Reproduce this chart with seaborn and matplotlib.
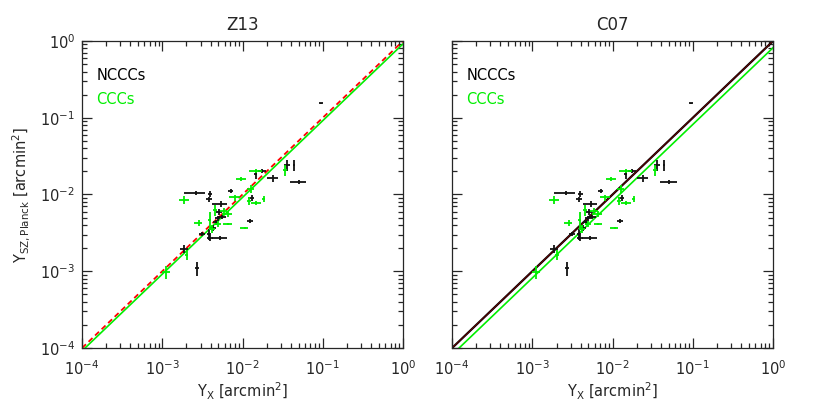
import matplotlib
matplotlib.use("Agg")
import matplotlib.pyplot as plt
import seaborn as sns
import numpy as np
import pandas as pd

# NCCCs (black)
nccc_yx = [0.0356, 0.0442, 0.0506, 0.0237, 0.0146, 0.0175, 0.00261, 0.00397, 0.00386,
           0.00713, 0.00532, 0.01294, 0.0124, 0.00491, 0.00551, 0.00463, 0.00432,
           0.00383, 0.00525, 0.00394, 0.0031, 0.00187, 0.00271, 0.0942, 0.00509]
nccc_ysz = [0.0242, 0.0242, 0.01455, 0.0162, 0.0183, 0.0204, 0.01055, 0.0102, 0.00866,
            0.0111, 0.00752, 0.0090, 0.00452, 0.0049, 0.00514, 0.00434, 0.00369,
            0.00303, 0.00274, 0.00274, 0.00306, 0.00197, 0.00109, 0.154, 0.00591]
nccc_yx_err = [0.0032, 0.0012, 0.012, 0.0037, 0.0006, 0.002, 0.00075, 0.00025, 0.00033,
               0.0005, 0.0011, 0.0011, 0.0011, 0.0004, 0.00063, 0.0003, 0.0004,
               0.0002, 0.0011, 0.0003, 0.00027, 0.0002, 0.00015, 0.0054, 0.0004]
nccc_ysz_err = [0.0039, 0.0039, 0.0009, 0.0015, 0.0023, 0.0012, 0.0006, 0.0009, 0.0006,
                0.0007, 0.0007, 0.0008, 0.0003, 0.0004, 0.0003, 0.0003, 0.0003,
                0.0005, 0.00015, 0.00025, 0.0002, 0.00024, 0.00023, 0.002, 0.0005]

# CCCs (green)
ccc_yx = [0.0339, 0.00958, 0.0147, 0.0126, 0.01205, 0.0147, 0.0183, 0.00807, 0.00188,
          0.0065, 0.00283, 0.00388, 0.0106, 0.00111, 0.00202, 0.00454, 0.00496,
          0.00659, 0.00417, 0.00589]
ccc_ysz = [0.0206, 0.0158, 0.0202, 0.0118, 0.00823, 0.00775, 0.00874, 0.00914, 0.00848,
           0.00557, 0.00429, 0.00465, 0.00366, 0.000987, 0.00165, 0.00628, 0.00413,
           0.00413, 0.00355, 0.0061]
ccc_yx_err = [0.0017, 0.0014, 0.0026, 0.0011, 0.0007, 0.0021, 0.0006, 0.0012, 0.00028,
              0.0009, 0.00033, 0.0002, 0.0012, 0.00013, 0.0001, 0.00025, 0.00043,
              0.0008, 0.0004, 0.0006]
ccc_ysz_err = [0.0033, 0.0009, 0.0012, 0.0014, 0.001, 0.0005, 0.0008, 0.0008, 0.001,
               0.0005, 0.0004, 0.0012, 0.00015, 0.0002, 0.00025, 0.0011, 0.00037,
               0.00015, 0.0004, 0.0006]

# scaling-relation normalisations (Y_SZ = A * Y_X)
panel_titles = ["Z13", "C07"]
norm_all = [1.0, 1.0]
norm_ccc = [0.917, 0.818]
line_range = [1e-4, 1.0]

sns.set_style("ticks")
plt.rcParams["font.family"] = ["DejaVu Sans"]
plt.rcParams["mathtext.fontset"] = "dejavusans"

fig = plt.figure(figsize=(8.22, 4.11), dpi=100)
axes = [fig.add_axes([0.0998, 0.1533, 0.3905, 0.747]),
        fig.add_axes([0.5500, 0.1533, 0.3905, 0.747])]

green = "#00ee00"
for i, ax in enumerate(axes):
    # relations
    x_line = np.array(line_range)
    if i == 0:
        sns.lineplot(x=x_line, y=norm_all[i] * x_line, ax=ax, color="red",
                     linestyle=(0, (3, 2)), linewidth=1.3)
    else:
        sns.lineplot(x=x_line, y=norm_all[i] * x_line, ax=ax, color="black", linewidth=1.6)
        sns.lineplot(x=x_line, y=norm_all[i] * x_line, ax=ax, color="#8b0000", linewidth=0.5)
    sns.lineplot(x=x_line, y=norm_ccc[i] * x_line, ax=ax, color=green, linewidth=1.2)

    ax.errorbar(nccc_yx, nccc_ysz, xerr=nccc_yx_err, yerr=nccc_ysz_err, fmt="none",
                ecolor="#111111", elinewidth=1.3)
    ax.errorbar(ccc_yx, ccc_ysz, xerr=ccc_yx_err, yerr=ccc_ysz_err, fmt="none",
                ecolor=green, elinewidth=1.3)

    ax.set_xscale("log")
    ax.set_yscale("log")
    ax.set_xlim(1e-4, 1)
    ax.set_ylim(1e-4, 1)
    ax.tick_params(which="both", direction="in", top=True, right=True, labelsize=10.5,
                   width=0.9)
    ax.tick_params(which="major", length=7)
    ax.tick_params(which="minor", length=3.5)
    ax.tick_params(axis="x", which="major", pad=8)
    ax.tick_params(axis="y", which="major", pad=5)
    for s in ax.spines.values():
        s.set_linewidth(0.9)
    ax.set_title(panel_titles[i], fontsize=12, pad=8)
    ax.set_xlabel("Y$_{\\rm X}$ [arcmin$^2$]", fontsize=10.5, labelpad=2)
    if i == 0:
        ax.set_ylabel("Y$_{\\rm SZ,Planck}$ [arcmin$^2$]", fontsize=10.5, labelpad=6)
    else:
        ax.set_yticklabels([])
        ax.set_ylabel("")
    ax.text(0.045, 0.886, "NCCCs", transform=ax.transAxes, color="black",
            fontsize=10.5, va="center")
    ax.text(0.045, 0.808, "CCCs", transform=ax.transAxes, color=green,
            fontsize=10.5, va="center")

fig.savefig("out.png", dpi=100)
